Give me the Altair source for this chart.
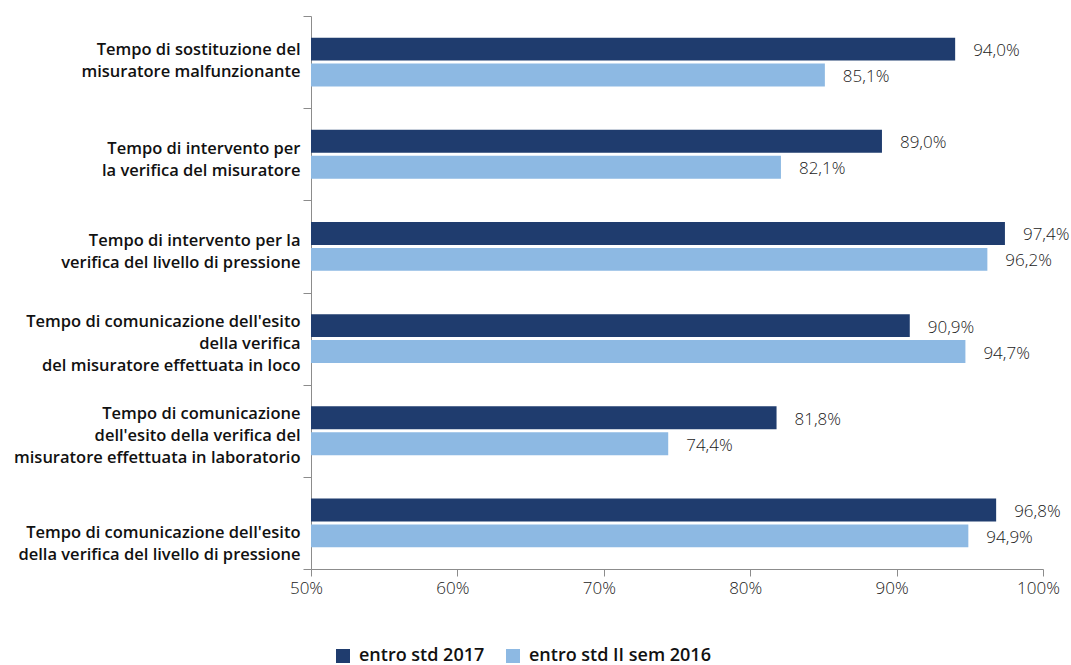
import altair as alt
import pandas as pd

# Indicator names (lines separated by "|") and the two series
categories = [
    "Tempo di sostituzione del|misuratore malfunzionante\u00a0",
    "Tempo di intervento per|la verifica del misuratore\u00a0",
    "Tempo di intervento per la|verifica del livello di pressione\u00a0",
    "Tempo di comunicazione dell'esito|della verifica|del misuratore effettuata in loco\u00a0\u00a0",
    "Tempo di comunicazione|dell'esito della verifica del|misuratore effettuata in laboratorio\u00a0",
    "Tempo di comunicazione dell'esito|della verifica del livello di pressione",
]
series = ["entro std 2017", "entro std II sem 2016"]
values_2017 = [94.0, 89.0, 97.4, 90.9, 81.8, 96.8]
values_2016 = [85.1, 82.1, 96.2, 94.7, 74.4, 94.9]

x_ticks = [0.5, 0.6, 0.7, 0.8, 0.9, 1.0]
colors = ["#1f3c6e", "#8db9e3"]

rows = []
for cat, a, b in zip(categories, values_2017, values_2016):
    for s, v in zip(series, (a, b)):
        rows.append({
            "categoria": cat,
            "serie": s,
            "quota": v / 100,
            "etichetta": f"{v:.1f}%".replace(".", ","),
        })
df = pd.DataFrame(rows)

FONT = "Open Sans"

# Multi-line labels are drawn from their first line down, so shift them up
# to sit around the middle of each band.
label_offset = {
    "condition": [
        {"test": "datum.index == 0", "value": -13},
        {"test": "datum.index == 1", "value": 10},
        {"test": "length(split(datum.label, '|')) == 3", "value": -17},
    ],
    "value": -6,
}

y_enc = alt.Y(
    "categoria:N",
    sort=categories,
    title=None,
    scale=alt.Scale(paddingInner=0, paddingOuter=0),
    axis=alt.Axis(
        labelExpr="split(datum.label, '|')",
        labelLineHeight=22,
        labelFont=FONT,
        labelFontWeight=600,
        labelFontSize=16.5,
        labelColor="#111111",
        labelPadding=3,
        labelLimit=320,
        labelOffset=label_offset,
        tickBand="extent",
        tickSize=8,
        tickColor="#8c8c8c",
        domainColor="#8c8c8c",
        grid=False,
    ),
)
y_off = alt.YOffset(
    "serie:N",
    sort=series,
    scale=alt.Scale(paddingInner=0.115, paddingOuter=0.836),
)
x_enc = alt.X(
    "quota:Q",
    title=None,
    scale=alt.Scale(domain=[0.5, 1.0], clamp=True),
    axis=alt.Axis(
        values=x_ticks,
        format=".0%",
        labelFont=FONT,
        labelFontWeight=300,
        labelFontSize=17,
        labelColor="#1a1a1a",
        labelPadding=4,
        labelFlush=False,
        labelOffset=-5,
        tickSize=7,
        tickColor="#8c8c8c",
        domainColor="#8c8c8c",
        grid=False,
    ),
)

bars = alt.Chart(df).mark_bar(opacity=1).encode(
    x=x_enc,
    y=y_enc,
    yOffset=y_off,
    color=alt.Color(
        "serie:N",
        sort=series,
        scale=alt.Scale(domain=series, range=colors),
        legend=alt.Legend(
            title=None,
            orient="none",
            legendX=23,
            legendY=631,
            direction="horizontal",
            symbolType="square",
            symbolSize=196,
            symbolStrokeWidth=0,
            symbolOpacity=1,
            labelFont=FONT,
            labelFontWeight=600,
            labelFontSize=18,
            labelColor="#111111",
            labelOffset=7,
            columnPadding=19,
            padding=0,
            labelLimit=300,
        ),
    ),
)

labels = alt.Chart(df).mark_text(
    align="left",
    baseline="middle",
    dx=18,
    dy=2,
    font=FONT,
    fontWeight=300,
    fontSize=17,
    color="#1a1a1a",
).encode(
    x="quota:Q",
    y=alt.Y("categoria:N", sort=categories),
    yOffset=alt.YOffset("serie:N", sort=series),
    text="etichetta:N",
)

chart = (
    alt.layer(bars, labels)
    .properties(
        width=732,
        height=553,
        autosize=alt.AutoSizeParams(type="none"),
        padding={"left": 311, "top": 16, "right": 28, "bottom": 96},
        background="white",
    )
    .configure_view(stroke=None)
)

chart.save("out.html", embed_options={"renderer": "svg", "actions": False})
